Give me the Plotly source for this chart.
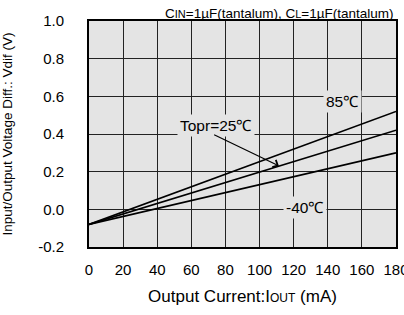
import plotly.graph_objects as go

current = [0, 180]
vdif_85 = [-0.08, 0.52]
vdif_25 = [-0.08, 0.42]
vdif_m40 = [-0.08, 0.30]

x_ticks = [0, 20, 40, 60, 80, 100, 120, 140, 160, 180]
y_ticks = [-0.2, 0.0, 0.2, 0.4, 0.6, 0.8, 1.0]
y_tick_text = ["-0.2", "0.0", "0.2", "0.4", "0.6", "0.8", "1.0"]

FONT = "Liberation Sans, Arial, sans-serif"
BG = "#e4e4e4"

fig = go.Figure()
for name, ys in [("85℃", vdif_85), ("25℃", vdif_25), ("-40℃", vdif_m40)]:
    fig.add_trace(go.Scatter(x=current, y=ys, mode="lines", name=name,
                             line=dict(color="black", width=1.6), showlegend=False))

fig.update_layout(
    width=404, height=315,
    margin=dict(l=89, r=8, t=21, b=68),
    paper_bgcolor="white", plot_bgcolor=BG,
    font=dict(family=FONT, size=15, color="black"),
    xaxis=dict(range=[0, 180], tickvals=x_ticks, ticks="", showgrid=True,
               gridcolor="#222", gridwidth=1, zeroline=False, automargin=False,
               showline=True, linecolor="black", linewidth=2, mirror=True,
               tickfont=dict(size=15), ticklabelstandoff=8, ticklabeloverflow="allow",
               title=dict(text="Output Current:I<span style='font-size:12px'>OUT</span> (mA)",
                          font=dict(size=17), standoff=13)),
    yaxis=dict(range=[-0.2, 1.0], tickvals=y_ticks, ticktext=y_tick_text, ticks="",
               showgrid=True, gridcolor="#222", gridwidth=1, zeroline=False, automargin=False,
               showline=True, linecolor="black", linewidth=2, mirror=True,
               tickfont=dict(size=15), ticklabelstandoff=20,
               title=dict(text="Input/Output Voltage Diff.: Vdif (V)",
                          font=dict(size=13.5), standoff=24)),
)

fig.add_annotation(x=148.8, y=0.57, text="85℃", showarrow=False,
                   bgcolor=BG, font=dict(size=15.5), borderpad=2)
fig.add_annotation(x=126.5, y=0.008, text="-40℃", showarrow=False,
                   bgcolor=BG, font=dict(size=15.5), borderpad=2)
fig.add_annotation(x=74.7, y=0.443, text="Topr=25℃", showarrow=False,
                   bgcolor=BG, font=dict(size=15.5), borderpad=2)
fig.add_annotation(x=111.3, y=0.231, ax=72.5, ay=0.40, axref="x", ayref="y",
                   text="", showarrow=True, arrowhead=4, arrowwidth=1.2,
                   arrowcolor="black", arrowsize=1.3)
fig.add_annotation(xref="paper", yref="paper", x=1.0, y=1.0, xanchor="right",
                   yanchor="middle", yshift=8,
                   text="C<span style='font-size:11px'>IN</span>=1µF(tantalum), C<span style='font-size:11px'>L</span>=1µF(tantalum)",
                   showarrow=False, font=dict(size=13.5))

fig.write_html("out.html", config={"displayModeBar": False},
               post_script="document.body.style.margin='0';")
